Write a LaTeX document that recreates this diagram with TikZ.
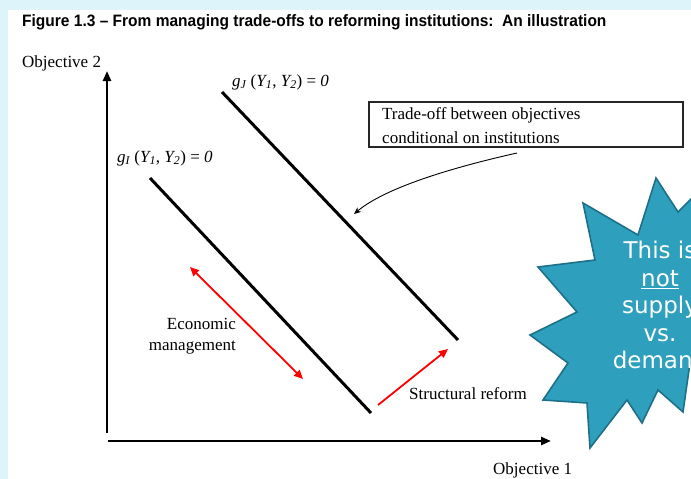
\documentclass[tikz,border=0pt]{standalone}
\usepackage{fontspec}
\setmainfont{Liberation Serif}
\newfontfamily\titlefont[FakeStretch=0.94,Ligatures=TeX]{Liberation Sans}
\newfontfamily\starfont{DejaVu Sans}
\usetikzlibrary{arrows.meta}
\definecolor{bgcyan}{RGB}{221,244,250}
\definecolor{starfill}{RGB}{46,160,190}
\definecolor{stardraw}{RGB}{30,112,138}
\definecolor{arrred}{RGB}{255,0,0}
\tikzset{
  lbl/.style={inner sep=0pt, font=\fontsize{17}{20}\selectfont},
  curve/.style={line width=3pt, black},
  axis/.style={line width=2.4pt, black, -{Triangle[length=10pt,width=8pt]}},
  redarrow/.style={line width=1.8pt, arrred},
}
\begin{document}
\begin{tikzpicture}[x=1pt,y=-1pt]
\useasboundingbox (0,0) rectangle (691,479);
\clip (0,0) rectangle (691,479);
\fill[bgcyan] (0,0) rectangle (691,479);
\fill[white] (8,10) rectangle (691,479);

% title
\node[anchor=base west, inner sep=0pt, font=\titlefont\bfseries\fontsize{16.5}{18}\selectfont] (title) at (22,27)
  {Figure 1.3 – From managing trade-offs to reforming institutions:\ \ An illustration};

% axes
\coordinate (yb) at (107,433);
\coordinate (yt) at (107,71);
\coordinate (xl) at (108,441);
\coordinate (xr) at (551,441);
\draw[axis] (yb) -- (yt);
\draw[axis] (xl) -- (xr);
\node[lbl, anchor=base west] (obj2) at (22,67) {Objective 2};
\node[lbl, anchor=base west] (obj1) at (493,474) {Objective 1};

% trade-off lines
\coordinate (jA) at (222,92);
\coordinate (jB) at (458,340);
\coordinate (iA) at (150,178);
\coordinate (iB) at (371,413);
\draw[curve] (jA) -- (jB);
\draw[curve] (iA) -- (iB);
\node[lbl, anchor=base west] (gJ) at (232,86) {\textit{g\textsubscript{J}} (\textit{Y\textsubscript{1}}, \textit{Y\textsubscript{2}}) = \textit{0}};
\node[lbl, anchor=base west] (gI) at (117,162) {\textit{g\textsubscript{I}} (\textit{Y\textsubscript{1}}, \textit{Y\textsubscript{2}}) = \textit{0}};

% box
\fill[white] (369,102) rectangle (683,147);
\begin{scope}
\clip (369,102) rectangle (683,146);
\node[lbl, anchor=base west] (box1) at (382,119) {Trade-off between objectives};
\node[lbl, anchor=base west] (box2) at (382,143) {conditional on institutions};
\end{scope}
\draw[line width=1.2pt, black!85] (369,102) rectangle (683,147);
\coordinate (cs) at (517,153);
\coordinate (ce) at (354,214);
\draw[line width=0.9pt, -{Stealth[length=7pt,width=6pt]}] (cs) .. controls (450,168) and (385,188) .. (ce);

% red arrows
\coordinate (e1) at (190,267);
\coordinate (e2) at (303,379);
\draw[redarrow, {Triangle[length=9pt,width=8pt]}-{Triangle[length=9pt,width=8pt]}] (e1) -- (e2);
\node[lbl, align=right, anchor=north east, font=\fontsize{17}{21}\selectfont] (econ) at (236,318) {Economic\\management};
\coordinate (s1) at (378,405);
\coordinate (s2) at (448,349);
\draw[redarrow, -{Triangle[length=9pt,width=8pt]}] (s1) -- (s2);
\node[lbl, anchor=base west] (struct) at (409,399) {Structural reform};

% star
\draw[fill=starfill, draw=stardraw, line width=1.6pt, line join=miter]
  (656,178) -- (678,212) -- (702,188) -- (712,240) -- (760,250) -- (720,300)
  -- (760,340) -- (712,360) -- (690,363) -- (683,412) -- (658,390) -- (642,423)
  -- (627,400) -- (590,448) -- (587,403) -- (543,400) -- (568,363) -- (530,335)
  -- (577,312) -- (538,267) -- (595,260) -- (583,203) -- (638,235) -- cycle;
\node[align=center, text=white, inner sep=0pt, font=\starfont\fontsize{23}{27.5}\selectfont] (startext) at (660,305)
  {This is\\\underline{not}\\supply\\vs.\\demand};
\end{tikzpicture}
\end{document}
